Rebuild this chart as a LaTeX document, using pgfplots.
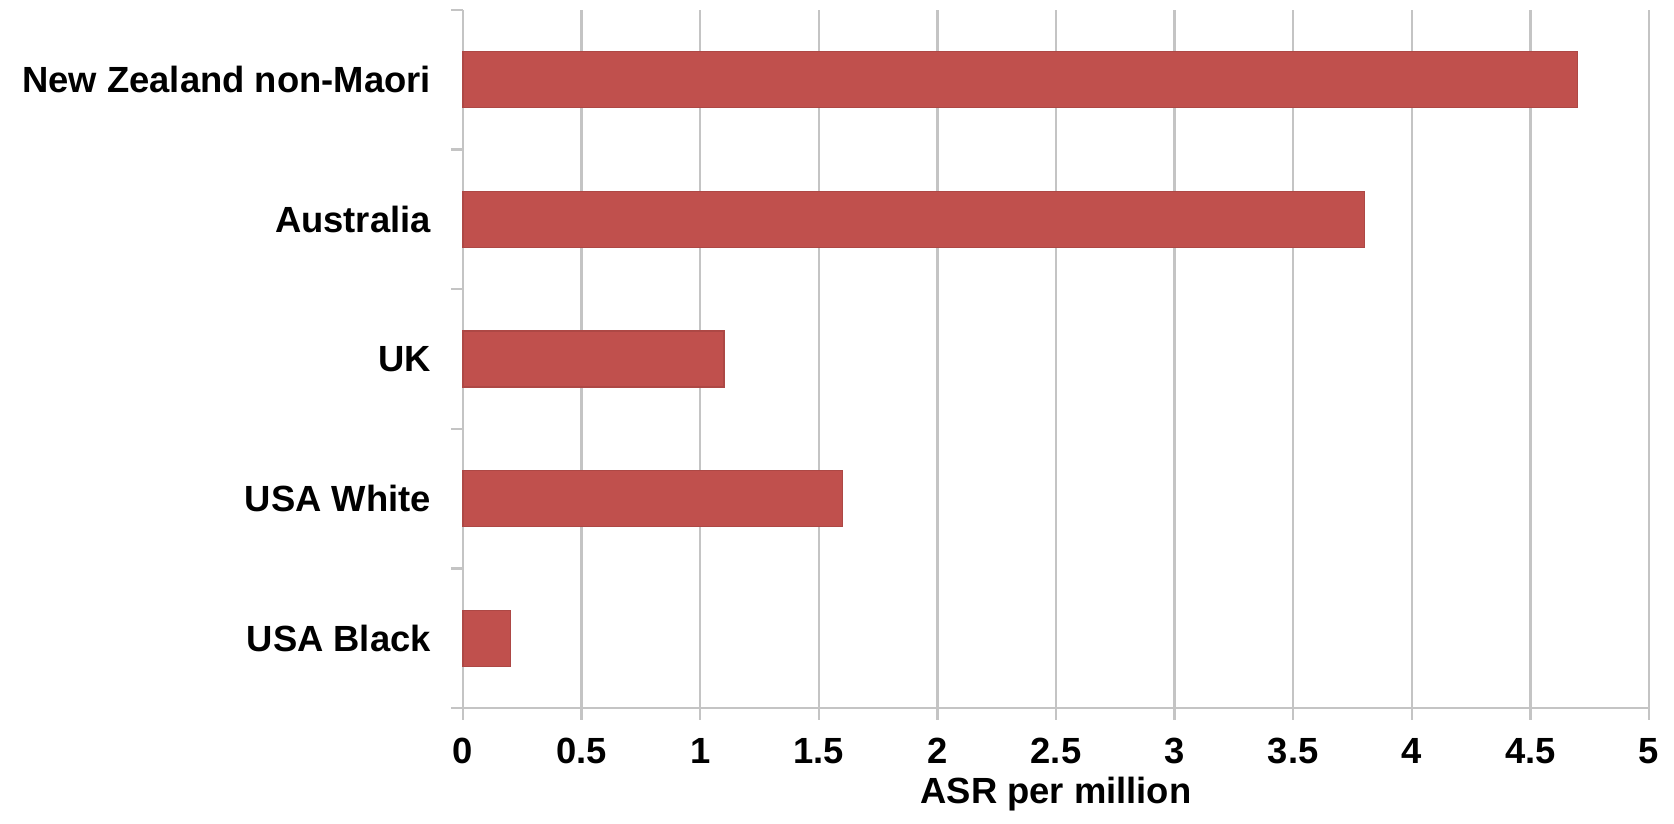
\documentclass[border=0pt]{standalone}
\usepackage{pgfplots}
\pgfplotsset{compat=1.18}
\usepackage{fontspec}
\setmainfont{Liberation Sans}
\definecolor{barred}{HTML}{C0504D}
\definecolor{gridgray}{HTML}{C4C4C4}
\pgfplotstableread{
y value
0 0.2
1 1.6
2 1.1
3 3.8
4 4.7
}\asrdata
\begin{document}
\begin{tikzpicture}
\path[use as bounding box] (0,0) rectangle (418.5pt,206pt);
\begin{axis}[
  at={(115.75pt,29pt)}, anchor=south west,
  width=296.5pt, height=174.5pt, scale only axis,
  xbar, bar width=14pt,
  xmin=0, xmax=5, ymin=-0.5, ymax=4.5,
  axis lines=left, axis line style={gridgray, line width=0.6pt, -},
  xtick={0,0.5,...,5},
  xticklabels={0,0.5,1,1.5,2,2.5,3,3.5,4,4.5,5},
  ytick={0,1,2,3,4},
  yticklabels={USA Black,USA White,UK,Australia,New Zealand non-Maori},
  minor ytick={-0.5,0.5,1.5,2.5,3.5,4.5},
  major tick length=3pt, minor tick length=3pt,
  tick align=outside,
  major y tick style={draw=none},
  minor y tick style={draw=gridgray, line width=0.6pt},
  x tick style={draw=gridgray, line width=0.6pt},
  xmajorgrids, grid style={gridgray, line width=0.6pt},
  ticklabel style={font=\bfseries\fontsize{9.1}{11}\selectfont, text=black},
  xticklabel style={yshift=-1pt},
  yticklabel style={xshift=-1.5pt},
  xlabel={ASR per million},
  xlabel style={font=\bfseries\fontsize{9.1}{11}\selectfont, yshift=3.5pt},
  clip=false,
]
\addplot[fill=barred, draw=barred!90!black, line width=0.3pt] table[x=value, y=y] {\asrdata};
\end{axis}
\end{tikzpicture}
\end{document}
